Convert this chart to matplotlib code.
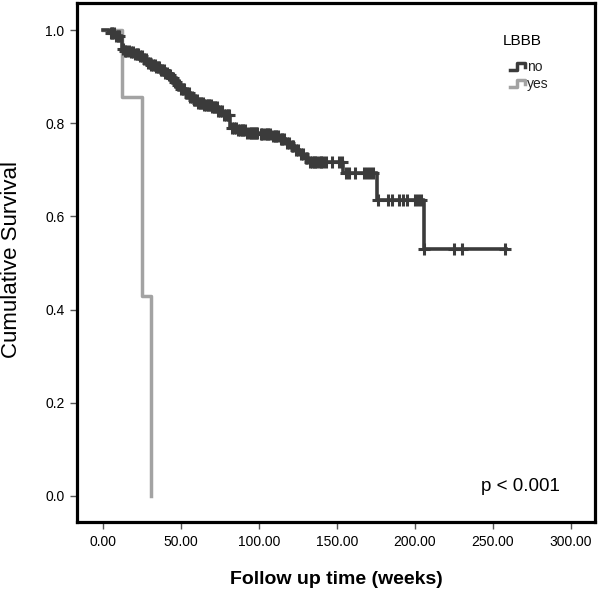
import numpy as np
import matplotlib
matplotlib.use("Agg")
import matplotlib.pyplot as plt
from matplotlib.lines import Line2D

plt.rcParams["font.family"] = ["Liberation Sans", "DejaVu Sans"]

# ---------------------------------------------------------------------
# Data
# ---------------------------------------------------------------------
# LBBB = no : step times (weeks) and survival after each step
no_times = [0, 4, 8, 12, 14, 17, 20, 23, 26, 28, 31, 34, 37, 40, 42, 44,
            46, 48, 50, 53, 56, 58, 61, 65, 70, 74, 77, 81.5, 86, 92, 100,
            108, 113, 117, 120, 123, 126, 129, 132, 154, 175.5, 205.5]
no_surv = [1.0, 0.994, 0.988, 0.960, 0.956, 0.953, 0.949, 0.944, 0.938,
           0.930, 0.925, 0.920, 0.914, 0.908, 0.903, 0.897, 0.889, 0.881,
           0.873, 0.865, 0.857, 0.849, 0.843, 0.838, 0.834, 0.827, 0.818,
           0.790, 0.785, 0.780, 0.776, 0.772, 0.766, 0.758, 0.750, 0.742,
           0.733, 0.725, 0.716, 0.694, 0.635, 0.530]
no_end = 258.5

# censored observations (weeks), LBBB = no
no_censored = [5, 6, 7, 8.5, 9.5, 10.5,
               13, 14, 15, 16.5, 18, 19, 20.5, 21.5, 22.5, 24, 25, 26.5,
               27.5, 29, 30, 31, 32, 33, 34, 35, 36, 37, 38, 39, 40, 41,
               42, 43, 44, 45, 46, 47, 48, 49, 50, 51, 52, 53, 54, 55,
               56, 57, 58, 59, 60, 61, 62, 63, 64, 65, 66, 67, 68, 69,
               70, 71, 72, 73, 74, 75, 76, 77.5, 79, 80, 81,
               82.5, 84, 85, 86.5, 88, 89, 90, 91, 92.5, 94, 95, 96, 97,
               98, 99, 101, 102, 104, 105, 106, 107, 109,
               110, 111, 112, 114, 115, 116, 118, 119, 121, 122, 124,
               125, 127, 128, 130, 131, 133, 134, 135, 136, 137, 139,
               140, 141, 143, 147, 151, 153,
               156, 158, 161.5, 167, 169, 171, 173,
               176, 183, 185, 190, 192, 195, 200, 202, 204,
               206, 225, 230, 258]

# LBBB = yes
yes_times = [0, 12, 25, 31]
yes_surv = [1.0, 0.857, 0.429, 0.0]

x_ticks = [0, 50, 100, 150, 200, 250, 300]
y_ticks = [0.0, 0.2, 0.4, 0.6, 0.8, 1.0]

# ---------------------------------------------------------------------
# Figure
# ---------------------------------------------------------------------
fig = plt.figure(figsize=(6.0, 5.91), dpi=100)
ax = fig.add_axes([77 / 600, 69 / 591, 518 / 600, 519 / 591])

dark = "#3b3b3b"
light = "#a3a3a3"

# yes curve (drawn first, underneath)
ax.step(yes_times, yes_surv, where="post", color=light, linewidth=2.5)

# no curve
t_no = list(no_times) + [no_end]
s_no = list(no_surv) + [no_surv[-1]]
ax.step(t_no, s_no, where="post", color=dark, linewidth=2.6)

# censor marks sit on the step function
idx = np.searchsorted(no_times, no_censored, side="right") - 1
cens_y = np.asarray(no_surv)[idx]
ax.plot(no_censored, cens_y, linestyle="none", marker="+", markersize=8,
        markeredgewidth=2.2, color=dark)

ax.set_xlim(-16.7, 315.4)
ax.set_ylim(-0.056, 1.058)
ax.set_xticks(x_ticks)
ax.set_xticklabels([f"{v:.2f}" for v in x_ticks])
ax.set_yticks(y_ticks)
ax.set_yticklabels([f"{v:.1f}" for v in y_ticks])
ax.tick_params(direction="out", length=5, width=1.0, color="#555555",
               labelsize=10, pad=4)

for sp in ax.spines.values():
    sp.set_linewidth(2.3)
    sp.set_color("black")

ax.set_xlabel("Follow up time (weeks)", fontsize=14, fontweight="bold",
              labelpad=16)
ax.set_ylabel("Cumulative Survival", fontsize=16)
ax.yaxis.set_label_coords(-0.106, 0.505)

ax.text(0.932, 0.06, "p < 0.001", transform=ax.transAxes, fontsize=13.5,
        ha="right", va="baseline")

# legend drawn by hand in figure pixels (step glyphs)
def fpt(px, py):
    return px / 600, 1 - py / 591

fig.text(*fpt(503, 41), "LBBB", fontsize=11, ha="left", va="center")
for ypx, col, lab in [(66, dark, "no"), (83, light, "yes")]:
    pts = [fpt(510, ypx + 4), fpt(517, ypx + 4), fpt(517, ypx - 3),
           fpt(525, ypx - 3), fpt(525, ypx + 1)]
    xs, ys = zip(*pts)
    fig.add_artist(Line2D(xs, ys, transform=fig.transFigure, color=col,
                          linewidth=2.5))
    fig.text(*fpt(527, ypx + 1), lab, fontsize=10, ha="left", va="center",
             color="#222222")

fig.savefig("out.png", dpi=100)
